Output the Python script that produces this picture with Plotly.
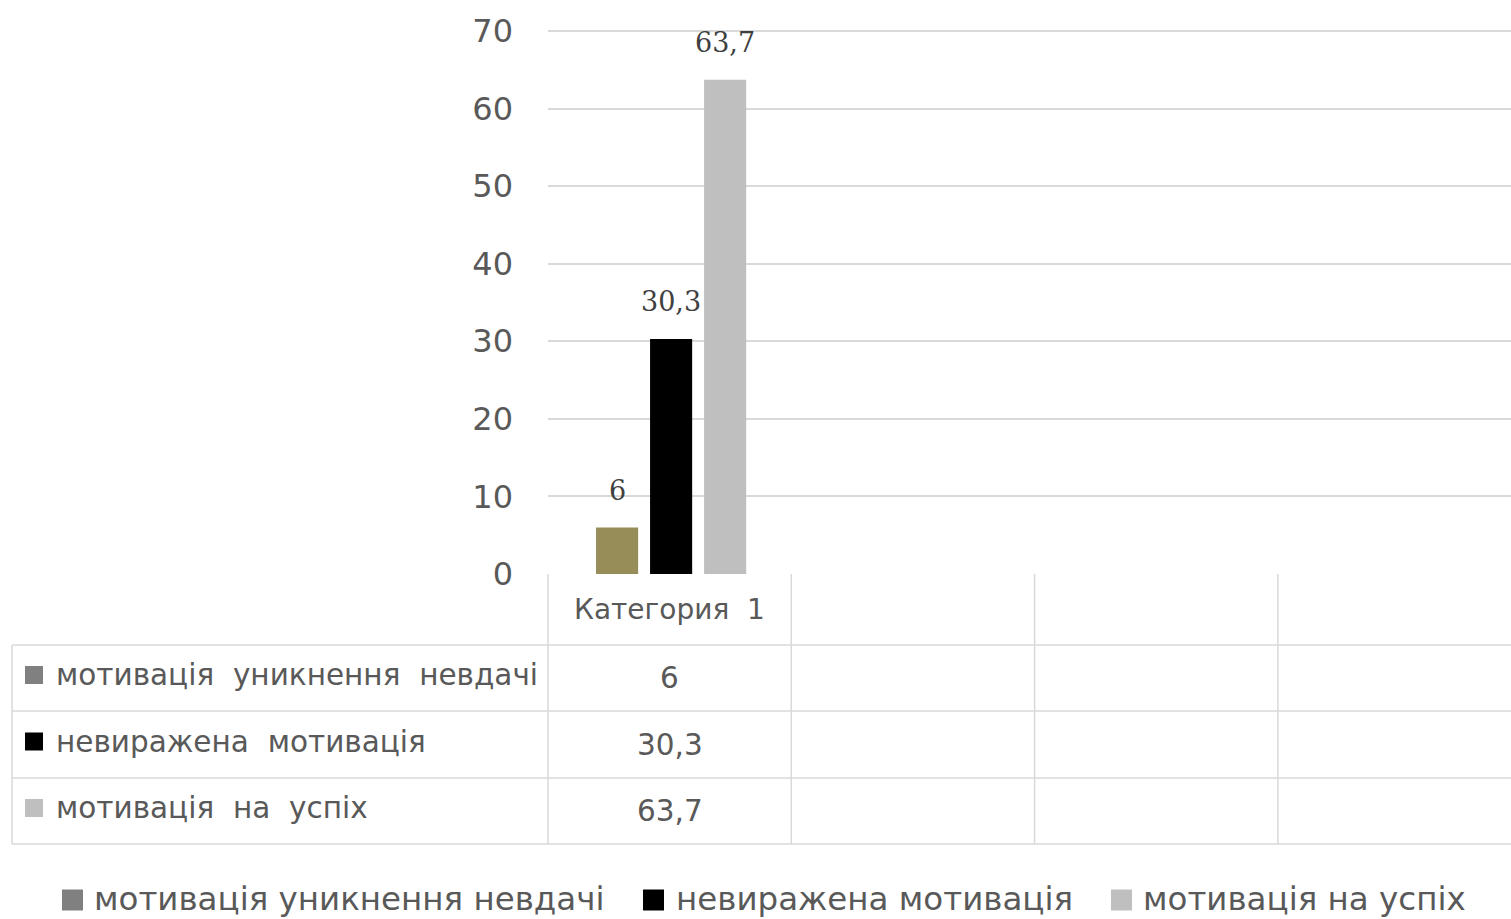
import plotly.graph_objects as go

# ---------------- data ----------------
categories = ["Категория  1", "", "", ""]
series_names = ["мотивація  уникнення  невдачі", "невиражена  мотивація", "мотивація  на  успіх"]
legend_names = ["мотивація уникнення невдачі", "невиражена мотивація", "мотивація на успіх"]
values = [6, 30.3, 63.7]            # values for "Категория 1"
value_labels = ["6", "30,3", "63,7"]
y_ticks = [0, 10, 20, 30, 40, 50, 60, 70]

bar_colors = ["#978d58", "#000000", "#bfbfbf"]
key_colors = ["#808080", "#000000", "#bfbfbf"]

# ---------------- layout helpers ----------------
W, H = 1511, 919
def px(p):
    return p / W
def py(p):
    return 1 - p / H

X0 = 548 / W
ncat = len(categories)
slot_px = 243.3
x_max = (W - 548) / slot_px - 0.5
def xpaper(xv):
    return X0 + (xv + 0.5) / (x_max + 0.5) * (1 - X0)
col_edges = [xpaper(k - 0.5) for k in range(ncat + 1)]
col_centers = [xpaper(k) for k in range(ncat)]

# y scale: 0 at 574px, 70 at 31px; range slightly above 70 so the top gridline shows
y_top = 70.15
ppu = (574 - 31) / 70.0
y_dom_top_px = 574 - y_top * ppu

GRID = "#d9d9d9"
TXT = "#595959"
FONT = "DejaVu Sans"

step = 0.222
bar_w = 0.173
shift = 0.006

fig = go.Figure()
for i, (name, v) in enumerate(zip(series_names, values)):
    fig.add_trace(go.Bar(
        x=[0], y=[v], name=legend_names[i],
        width=[bar_w], offset=[(i - 1) * step - bar_w / 2 + shift],
        marker=dict(color=bar_colors[i], line=dict(width=0)),
        showlegend=False, hoverinfo="skip",
    ))

shapes = []
annotations = []

# data labels on bars
for i, (v, lab) in enumerate(zip(values, value_labels)):
    annotations.append(dict(
        x=(i - 1) * step + shift, y=v, xref="x", yref="y", text=lab, showarrow=False,
        yanchor="middle", yshift=37,
        font=dict(family="DejaVu Serif", size=27, color="#404040"),
    ))

# ---------------- data table ----------------
row_edges = [574, 645, 711, 778, 844]
line = dict(color=GRID, width=1.5)
for r in row_edges[1:]:
    shapes.append(dict(type="line", xref="paper", yref="paper",
                       x0=px(12), x1=1, y0=py(r), y1=py(r), line=line))
shapes.append(dict(type="line", xref="paper", yref="paper",
                   x0=px(12), x1=px(12), y0=py(row_edges[1]), y1=py(row_edges[-1]), line=line))
for k in range(ncat):
    shapes.append(dict(type="line", xref="paper", yref="paper",
                       x0=col_edges[k], x1=col_edges[k], y0=py(row_edges[0]), y1=py(row_edges[-1]), line=line))

# category header row
for k, c in enumerate(categories):
    if c:
        annotations.append(dict(
            x=col_centers[k], y=py((row_edges[0] + row_edges[1]) / 2), xref="paper", yref="paper",
            text=c, showarrow=False, xanchor="center", yanchor="middle",
            font=dict(family=FONT, size=28, color=TXT)))

# series rows
key = 18
for i, name in enumerate(series_names):
    yc = (row_edges[i + 1] + row_edges[i + 2]) / 2
    shapes.append(dict(type="rect", xref="paper", yref="paper",
                       x0=px(25), x1=px(25 + key), y0=py(yc - 3 + key / 2), y1=py(yc - 3 - key / 2),
                       fillcolor=key_colors[i], line=dict(width=0)))
    annotations.append(dict(
        x=px(54), y=py(yc - 3), xref="paper", yref="paper", text=name, showarrow=False,
        xanchor="left", yanchor="middle", font=dict(family=FONT, size=29.5, color=TXT)))
    annotations.append(dict(
        x=col_centers[0], y=py(yc), xref="paper", yref="paper", text=value_labels[i], showarrow=False,
        xanchor="center", yanchor="middle", font=dict(family=FONT, size=29.5, color=TXT)))

# ---------------- bottom legend ----------------
leg_key_x = [62, 643, 1111]
leg_txt_x = [92, 674, 1141]
leg_y = 900
lkey = 21
for i, name in enumerate(legend_names):
    shapes.append(dict(type="rect", xref="paper", yref="paper",
                       x0=px(leg_key_x[i]), x1=px(leg_key_x[i] + lkey),
                       y0=py(leg_y + lkey / 2), y1=py(leg_y - lkey / 2),
                       fillcolor=key_colors[i], line=dict(width=0)))
    annotations.append(dict(
        x=px(leg_txt_x[i]), y=py(leg_y - 1), xref="paper", yref="paper", text=name, showarrow=False,
        xanchor="left", yanchor="middle", font=dict(family=FONT, size=32.5, color=TXT)))

fig.update_layout(
    width=W, height=H,
    autosize=False,
    template="none",
    margin=dict(l=0, r=0, t=0, b=0, pad=0),
    paper_bgcolor="white", plot_bgcolor="white",
    barmode="overlay",
    showlegend=False,
    shapes=shapes, annotations=annotations,
    xaxis=dict(domain=[X0, 1], range=[-0.5, x_max], showticklabels=False, ticks="",
               showgrid=False, zeroline=False, showline=False, fixedrange=True, automargin=False),
    yaxis=dict(domain=[py(574), py(y_dom_top_px)], range=[0, y_top], tickvals=y_ticks, ticks="",
               showgrid=True, gridcolor=GRID, gridwidth=1.5, zeroline=False, showline=False,
               tickfont=dict(family=FONT, size=32, color=TXT), ticklabelstandoff=34,
               fixedrange=True, automargin=False),
)

fig.write_html("out.html", config={"displayModeBar": False},
               post_script="document.body.style.margin='0';document.body.style.overflow='hidden';")
